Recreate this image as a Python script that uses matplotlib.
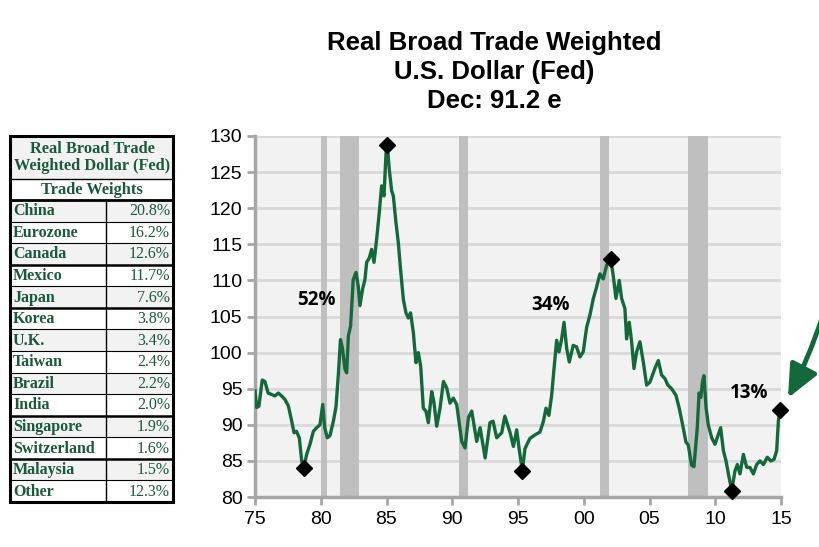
import numpy as np
import matplotlib
matplotlib.use("Agg")
import matplotlib.pyplot as plt
from matplotlib.patches import Rectangle, FancyArrowPatch

# ---------------- data ----------------
dates = [1975.00, 1975.13, 1975.30, 1975.55, 1975.75, 1976.00, 1976.27, 1976.52, 1976.77, 1977.02,
         1977.28, 1977.54, 1977.79, 1977.97, 1978.15, 1978.37, 1978.55, 1978.70, 1978.93, 1979.18,
         1979.44, 1979.69, 1979.94, 1980.15, 1980.30, 1980.50, 1980.70, 1980.96, 1981.16, 1981.34,
         1981.50, 1981.66, 1981.84, 1981.97, 1982.10, 1982.27, 1982.47, 1982.68, 1982.85, 1982.98,
         1983.18, 1983.36, 1983.49, 1983.69, 1983.87, 1984.05, 1984.25, 1984.45, 1984.63, 1984.81,
         1984.96, 1985.06, 1985.21, 1985.39, 1985.52, 1985.72, 1985.90, 1986.07, 1986.28, 1986.48,
         1986.66, 1986.83, 1987.04, 1987.24, 1987.42, 1987.60, 1987.80, 1988.00, 1988.18, 1988.44,
         1988.60, 1988.82, 1989.07, 1989.33, 1989.58, 1989.83, 1990.08, 1990.34, 1990.72, 1990.97,
         1991.23, 1991.48, 1991.86, 1992.12, 1992.50, 1992.87, 1993.10, 1993.38, 1993.76, 1994.00,
         1994.40, 1994.65, 1994.90, 1995.10, 1995.33, 1995.53, 1995.90, 1996.29, 1996.67, 1996.92,
         1997.13, 1997.35, 1997.56, 1997.74, 1997.94, 1998.12, 1998.32, 1998.50, 1998.70, 1998.90,
         1999.20, 1999.45, 1999.71, 1999.96, 2000.22, 2000.47, 2000.73, 2000.98, 2001.23, 2001.48,
         2001.74, 2002.04, 2002.24, 2002.45, 2002.70, 2002.88, 2003.13, 2003.26, 2003.46, 2003.64,
         2003.82, 2004.02, 2004.27, 2004.53, 2004.78, 2005.03, 2005.41, 2005.67, 2005.92, 2006.17,
         2006.40, 2006.68, 2007.01, 2007.26, 2007.52, 2007.77, 2007.95, 2008.20, 2008.38, 2008.63,
         2008.77, 2008.90, 2009.04, 2009.14, 2009.30, 2009.47, 2009.73, 2009.98, 2010.24, 2010.41,
         2010.62, 2010.82, 2011.00, 2011.25, 2011.50, 2011.68, 2011.88, 2012.14, 2012.39, 2012.64,
         2012.90, 2013.15, 2013.40, 2013.66, 2013.96, 2014.22, 2014.47, 2014.67, 2014.80, 2014.92]
dollar = [94.7, 92.4, 92.6, 96.2, 96.0, 94.4, 94.2, 94.0, 94.4, 94.0,
          93.5, 92.6, 90.5, 88.9, 89.1, 88.2, 85.0, 84.0, 85.9, 87.3,
          89.1, 89.6, 90.0, 92.8, 89.6, 88.2, 88.5, 90.5, 92.5, 97.0,
          101.8, 100.5, 97.7, 97.2, 102.3, 103.7, 110.1, 111.1, 109.2, 106.5,
          108.8, 110.1, 112.5, 113.1, 114.3, 112.5, 115.7, 119.4, 123.1, 121.7,
          127.5, 128.8, 125.4, 122.4, 121.7, 118.0, 115.2, 111.5, 107.4, 105.5,
          104.8, 105.5, 102.8, 98.6, 100.0, 98.1, 92.3, 91.9, 90.3, 94.6,
          93.2, 89.8, 92.3, 96.0, 95.1, 93.0, 93.7, 92.8, 87.7, 86.8,
          91.0, 91.9, 87.7, 89.6, 85.4, 90.3, 90.5, 88.2, 88.9, 91.2,
          88.9, 87.0, 89.3, 86.5, 83.6, 86.7, 88.1, 88.6, 89.0, 90.4,
          92.3, 91.3, 94.1, 97.8, 101.7, 100.1, 101.9, 104.2, 100.6, 98.7,
          101.0, 100.8, 99.4, 100.1, 103.5, 105.2, 107.5, 109.1, 110.9, 110.2,
          112.1, 113.0, 110.7, 107.5, 110.0, 107.5, 106.1, 101.9, 104.2, 101.5,
          97.8, 100.1, 101.5, 98.7, 95.5, 95.9, 97.8, 98.9, 96.9, 96.4,
          95.5, 95.0, 94.1, 92.3, 90.0, 87.6, 87.2, 84.4, 84.2, 89.5,
          94.4, 93.8, 96.1, 96.8, 92.4, 90.0, 88.2, 87.3, 88.7, 89.6,
          86.4, 85.0, 83.2, 80.9, 83.6, 84.5, 83.2, 85.9, 84.1, 84.1,
          83.2, 84.5, 85.0, 84.5, 85.5, 85.0, 85.2, 86.4, 90.5, 92.1]

marker_dates = [1978.70, 1985.06, 1995.33, 2002.04, 2011.25, 2014.92]

recession_start = [1980.0, 1981.5, 1990.5, 2001.2, 2007.9]
recession_end = [1980.5, 1982.9, 1991.2, 2001.9, 2009.45]

pct_labels = ["52%", "34%", "13%"]
pct_x = [1979.7, 1997.5, 2012.6]
pct_y = [107.3, 106.6, 94.4]

x_ticks = [1975, 1980, 1985, 1990, 1995, 2000, 2005, 2010, 2015]
x_tick_labels = ["75", "80", "85", "90", "95", "00", "05", "10", "15"]
y_ticks = [80, 85, 90, 95, 100, 105, 110, 115, 120, 125, 130]

countries = ["China", "Eurozone", "Canada", "Mexico", "Japan", "Korea", "U.K.",
             "Taiwan", "Brazil", "India", "Singapore", "Switzerland", "Malaysia", "Other"]
weights = ["20.8%", "16.2%", "12.6%", "11.7%", "7.6%", "3.8%", "3.4%",
           "2.4%", "2.2%", "2.0%", "1.9%", "1.6%", "1.5%", "12.3%"]

title = "Real Broad Trade Weighted\nU.S. Dollar (Fed)\nDec: 91.2 e"

# ---------------- figure ----------------
W, H = 819, 547
fig = plt.figure(figsize=(W / 100, H / 100), dpi=100)
fig.patch.set_facecolor("white")

line_color = "#13693a"
grid_color = "#d9d9d9"
spine_color = "#a6a6a6"

ax = fig.add_axes([255 / W, 1 - 497 / H, (781 - 255) / W, (497 - 136) / H])
ax.set_facecolor("#f2f2f2")
ax.set_axisbelow(True)
ax.yaxis.grid(True, color=grid_color, linewidth=2.0)
ax.xaxis.grid(False)

for s, e in zip(recession_start, recession_end):
    ax.axvspan(s, e, color="#bfbfbf", linewidth=0, zorder=1)

ax.plot(dates, dollar, color=line_color, linewidth=2.4, zorder=3, solid_joinstyle="round")

mx = [d for d in marker_dates]
my = [dollar[dates.index(d)] for d in marker_dates]
ax.plot(mx, my, linestyle="none", marker="D", markersize=8, color="black", zorder=4, clip_on=False)

for lab, px, py in zip(pct_labels, pct_x, pct_y):
    ax.text(px, py, lab, ha="center", va="center", fontsize=13.5, fontweight="bold",
            family=["Open Sans", "DejaVu Sans"], color="black", zorder=5)

ax.set_xlim(1975, 2015)
ax.set_ylim(80, 130)
ax.set_xticks(x_ticks)
ax.set_xticklabels(x_tick_labels)
ax.set_yticks(y_ticks)
for lab in ax.get_xticklabels() + ax.get_yticklabels():
    lab.set_family("Liberation Sans")
    lab.set_fontsize(14)
    lab.set_color("black")
ax.tick_params(axis="x", direction="out", length=6, width=2, color=spine_color, pad=4)
ax.tick_params(axis="y", direction="out", length=6, width=2, color=spine_color, pad=3)
for side in ["top", "right"]:
    ax.spines[side].set_visible(False)
for side in ["left", "bottom"]:
    ax.spines[side].set_color(spine_color)
    ax.spines[side].set_linewidth(2.5)

fig.text(494 / W, 1 - 72 / H, title, ha="center", va="center", fontsize=18.5,
         fontweight="bold", family="Liberation Sans", linespacing=1.27)

# ---------------- table (pixel coordinates) ----------------
tax = fig.add_axes([0, 0, 1, 1])
tax.set_xlim(0, W)
tax.set_ylim(H, 0)
tax.axis("off")
tax.patch.set_alpha(0)

green_txt = "#1a5a38"
x0, x1, xs = 10, 173, 106
top, hdr1, hdr2 = 136, 179, 200
bottom = 502
n = len(countries)
rh = (bottom - hdr2) / n

tax.add_patch(Rectangle((x0, top), x1 - x0, hdr1 - top, facecolor="#f2f2f2", edgecolor="none"))
for i in range(n):
    y0 = hdr2 + i * rh
    fc = "#f2f2f2" if i % 2 == 0 else "white"
    tax.add_patch(Rectangle((x0, y0), x1 - x0, rh, facecolor=fc, edgecolor="none"))

tax.text((x0 + x1) / 2 + 1, (top + hdr1) / 2, "Real Broad Trade\nWeighted Dollar (Fed)",
         ha="center", va="center", fontsize=11.8, fontweight="bold",
         family="Liberation Serif", color=green_txt, linespacing=1.15)
tax.text((x0 + x1) / 2, (hdr1 + hdr2) / 2 + 0.5, "Trade Weights", ha="center", va="center",
         fontsize=11.8, fontweight="bold", family="Liberation Serif", color=green_txt)

for i, (c, w) in enumerate(zip(countries, weights)):
    yc = hdr2 + (i + 0.5) * rh + 0.5
    tax.text(x0 + 3, yc, c, ha="left", va="center", fontsize=11.5, fontweight="bold",
             family="Liberation Serif", color=green_txt)
    tax.text(x1 - 3, yc, w, ha="right", va="center", fontsize=11.5,
             family="Liberation Serif", color=green_txt)

# lines
tax.plot([x0, x1], [hdr1, hdr1], color="black", lw=1.0)
tax.plot([x0, x1], [hdr2, hdr2], color="black", lw=2.0)
thick_after = {2, 4, 9, 11}
for i in range(1, n):
    yy = hdr2 + i * rh
    tax.plot([x0, x1], [yy, yy], color="black", lw=1.8 if (i - 1) in thick_after else 0.8)
tax.plot([xs, xs], [hdr2, bottom], color="black", lw=1.0)
tax.add_patch(Rectangle((x0, top), x1 - x0, bottom - top, facecolor="none",
                        edgecolor="black", linewidth=2.2))

# arrow at right
arr = FancyArrowPatch((822, 318), (788, 398), connectionstyle="arc3,rad=-0.04",
                      arrowstyle="-|>,head_length=20,head_width=9", color="#13693a",
                      linewidth=3.5, mutation_scale=1, shrinkA=0, shrinkB=0)
tax.add_patch(arr)

fig.savefig("out.png", dpi=100, facecolor="white")
